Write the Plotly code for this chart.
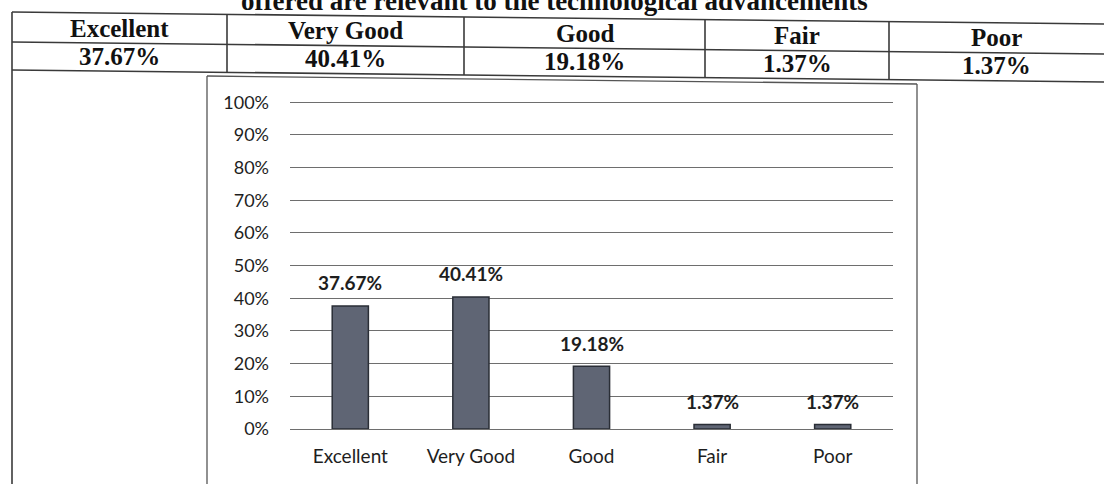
import plotly.graph_objects as go

# ---- data ----
categories = ["Excellent", "Very Good", "Good", "Fair", "Poor"]
values = [37.67, 40.41, 19.18, 1.37, 1.37]
y_ticks = [0, 10, 20, 30, 40, 50, 60, 70, 80, 90, 100]
y_tick_text = [f"{t}%" for t in y_ticks]
title_text = "offered are relevant to the technological advancements"

# ---- layout geometry (pixels) ----
W, H = 1104, 484
L, R, T, B = 290, 211, 99, 55
PW, PH = W - L - R, H - T - B
SLOPE = 0.011


def xp(px):
    return (px - L) / PW


def yp(py):
    return (H - B - py) / PH


def tilt(y0, x):
    return y0 + SLOPE * (x - 12)


fig = go.Figure()
fig.add_trace(go.Bar(
    x=categories, y=values, width=0.3,
    marker=dict(color="#5f6574", line=dict(color="#2a2e36", width=1.5)),
    hoverinfo="skip",
))

# data labels above bars
for c, v in zip(categories, values):
    fig.add_annotation(x=c, y=v, xref="x", yref="y", text=f"{v:.2f}%",
                       showarrow=False, yshift=23,
                       font=dict(family="Lato", size=19, color="#1e1e1e", weight="bold"))

line_col = "#3a3a3a"
shapes = []
# table horizontal lines (slightly tilted like the scan)
for y0 in (12, 42, 70):
    shapes.append(dict(type="line", xref="paper", yref="paper",
                       x0=xp(12), x1=xp(W), y0=yp(tilt(y0, 12)), y1=yp(tilt(y0, W)),
                       line=dict(color=line_col, width=1.6)))
col_edges = [12, 227, 464, 705, 889, W]
for xe in col_edges[1:-1]:
    shapes.append(dict(type="line", xref="paper", yref="paper",
                       x0=xp(xe), x1=xp(xe), y0=yp(tilt(12, xe)), y1=yp(tilt(70, xe)),
                       line=dict(color=line_col, width=1.6)))
# left border of table continuing down
shapes.append(dict(type="line", xref="paper", yref="paper",
                   x0=xp(12), x1=xp(12), y0=yp(tilt(12, 12)), y1=yp(H),
                   line=dict(color=line_col, width=1.6)))
# chart image frame
shapes.append(dict(type="line", xref="paper", yref="paper",
                   x0=xp(207), x1=xp(917), y0=yp(76), y1=yp(84),
                   line=dict(color="#555", width=1.3)))
shapes.append(dict(type="line", xref="paper", yref="paper",
                   x0=xp(207), x1=xp(207), y0=yp(76), y1=yp(H),
                   line=dict(color="#555", width=1.3)))
shapes.append(dict(type="line", xref="paper", yref="paper",
                   x0=xp(917), x1=xp(917), y0=yp(84), y1=yp(H),
                   line=dict(color="#555", width=1.3)))
fig.update_layout(shapes=shapes)

# table texts
serif = dict(family="Liberation Serif", size=25, color="#111", weight="bold")
for i, (c, v) in enumerate(zip(categories, values)):
    cx = (col_edges[i] + col_edges[i + 1]) / 2
    fig.add_annotation(x=xp(cx), y=yp(tilt(27, cx)), xref="paper", yref="paper",
                       text=c, showarrow=False, font=serif,
                       xanchor="center", yanchor="middle")
    fig.add_annotation(x=xp(cx), y=yp(tilt(55, cx)), xref="paper", yref="paper",
                       text=f"{v:.2f}%", showarrow=False, font=serif,
                       xanchor="center", yanchor="middle")

# partially cut title at the top (cut off in the reference scan as well)
fig.add_annotation(x=xp(870), y=yp(1), xref="paper", yref="paper",
                   text=title_text, showarrow=False,
                   font=dict(family="Liberation Serif", size=27, color="#111", weight="bold"),
                   xanchor="right", yanchor="middle")

fig.update_layout(
    width=W, height=H,
    margin=dict(l=L, r=R, t=T, b=B, autoexpand=False),
    paper_bgcolor="white", plot_bgcolor="white",
    showlegend=False,
    bargap=0.7,
    xaxis=dict(showgrid=False, showline=False, zeroline=False,
               tickfont=dict(family="Lato", size=19, color="#1e1e1e"),
               ticklabelstandoff=14, fixedrange=True),
    yaxis=dict(range=[0, 101], tickmode="array", tickvals=y_ticks, ticktext=y_tick_text,
               showgrid=True, gridcolor="#6e6e6e", gridwidth=1,
               zeroline=True, zerolinecolor="#6e6e6e", zerolinewidth=1, showline=False,
               tickfont=dict(family="Lato", size=18, color="#1e1e1e"),
               ticklabelstandoff=20, fixedrange=True),
)

fig.write_html("out.html", config={"displayModeBar": False},
               post_script="document.body.style.margin='0';")
